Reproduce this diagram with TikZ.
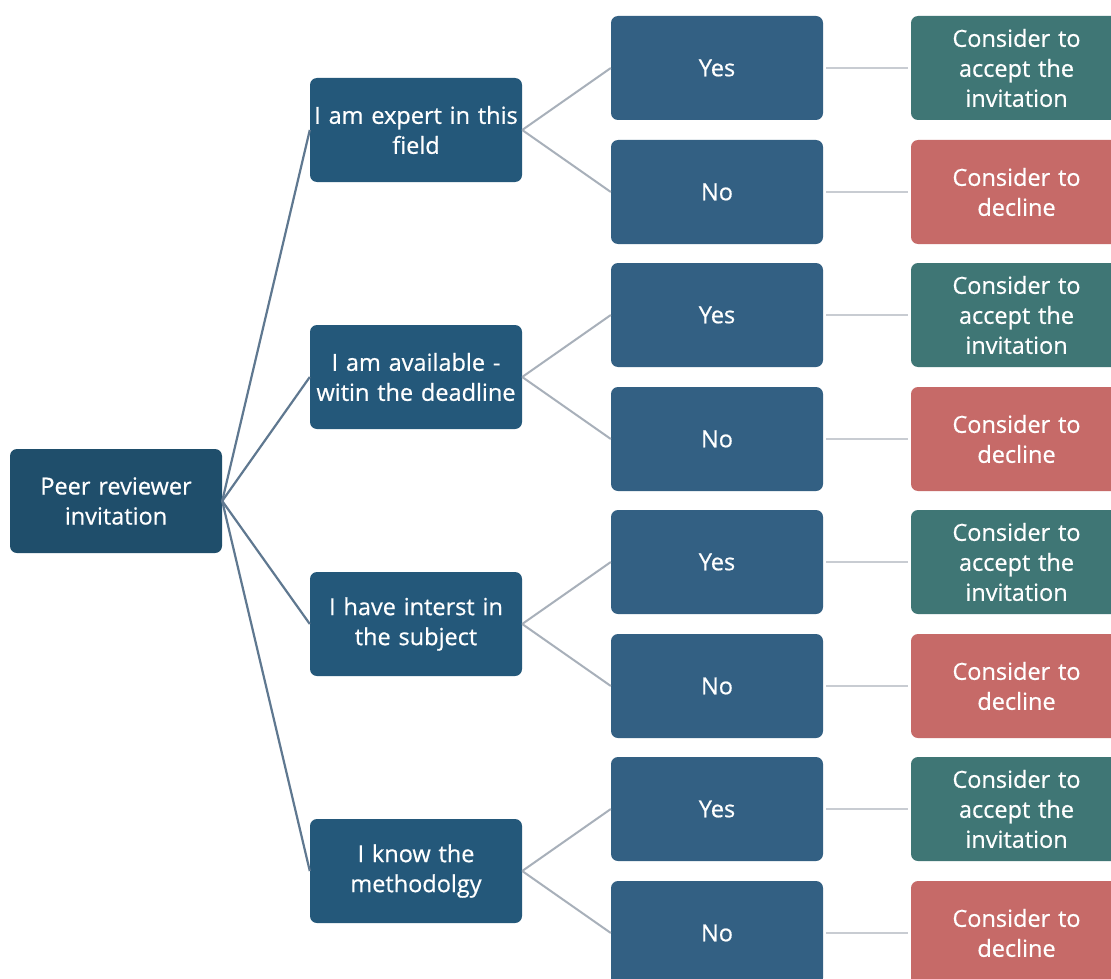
\documentclass[tikz,border=0pt]{standalone}
\usepackage{fontspec}
\newfontfamily\boxfont[FakeBold=0.6]{Open Sans}
\definecolor{rootc}{HTML}{1F4E6B}
\definecolor{lvtwo}{HTML}{24587A}
\definecolor{lvthree}{HTML}{336083}
\definecolor{acc}{HTML}{3F7675}
\definecolor{dec}{HTML}{C66A68}
\definecolor{lineA}{HTML}{5F7890}
\definecolor{lineB}{HTML}{A8B0BA}
\definecolor{lineC}{HTML}{C8CCD2}
\begin{document}
\begin{tikzpicture}[x=1pt,y=-1pt,
  box/.style={rectangle, rounded corners=7pt, minimum width=212pt, minimum height=104pt,
    text=white, align=center, inner sep=0pt, text width=212pt,
    font=\boxfont\fontsize{23.5}{30}\selectfont},
  rootbox/.style={box, fill=rootc},
  qbox/.style={box, fill=lvtwo},
  ansbox/.style={box, fill=lvthree},
  accbox/.style={box, fill=acc, minimum width=211pt, text width=211pt},
  decbox/.style={box, fill=dec, minimum width=211pt, text width=211pt},
  linkA/.style={draw=lineA, line width=2.2pt},
  linkB/.style={draw=lineB, line width=2pt},
  linkC/.style={draw=lineC, line width=2pt, shorten <=3pt, shorten >=3pt}]
\useasboundingbox (0,0) rectangle (1111,979);
\clip (0,0) rectangle (1111,979);
\fill[white] (0,0) rectangle (1111,979);
\node[rootbox] (root) at (116,501) {Peer reviewer\\invitation};
\node[qbox] (q1) at (416,130) {I am expert in this\\field};
\node[qbox] (q2) at (416,377) {I am available -\\witin the deadline};
\node[qbox] (q3) at (416,624) {I have interst in\\the subject};
\node[qbox] (q4) at (416,871) {I know the\\methodolgy};
\foreach \i/\y in {1/68,3/315,5/562,7/809}{
  \node[ansbox] (a\i) at (717,\y) {Yes};
  \node[accbox] (r\i) at (1016.5,\y) {Consider to\\accept the\\invitation};
}
\foreach \i/\y in {2/192,4/439,6/686,8/933}{
  \node[ansbox] (a\i) at (717,\y) {No};
  \node[decbox] (r\i) at (1016.5,\y) {Consider to\\decline};
}
\foreach \q in {1,2,3,4}{
  \draw[linkA] (root.east) -- (q\q.west);
}
\foreach \q/\a/\b in {1/1/2,2/3/4,3/5/6,4/7/8}{
  \draw[linkB] (q\q.east) -- (a\a.west);
  \draw[linkB] (q\q.east) -- (a\b.west);
}
\foreach \i in {1,...,8}{
  \draw[linkC] (a\i.east) -- (r\i.west);
}
\end{tikzpicture}
\end{document}
